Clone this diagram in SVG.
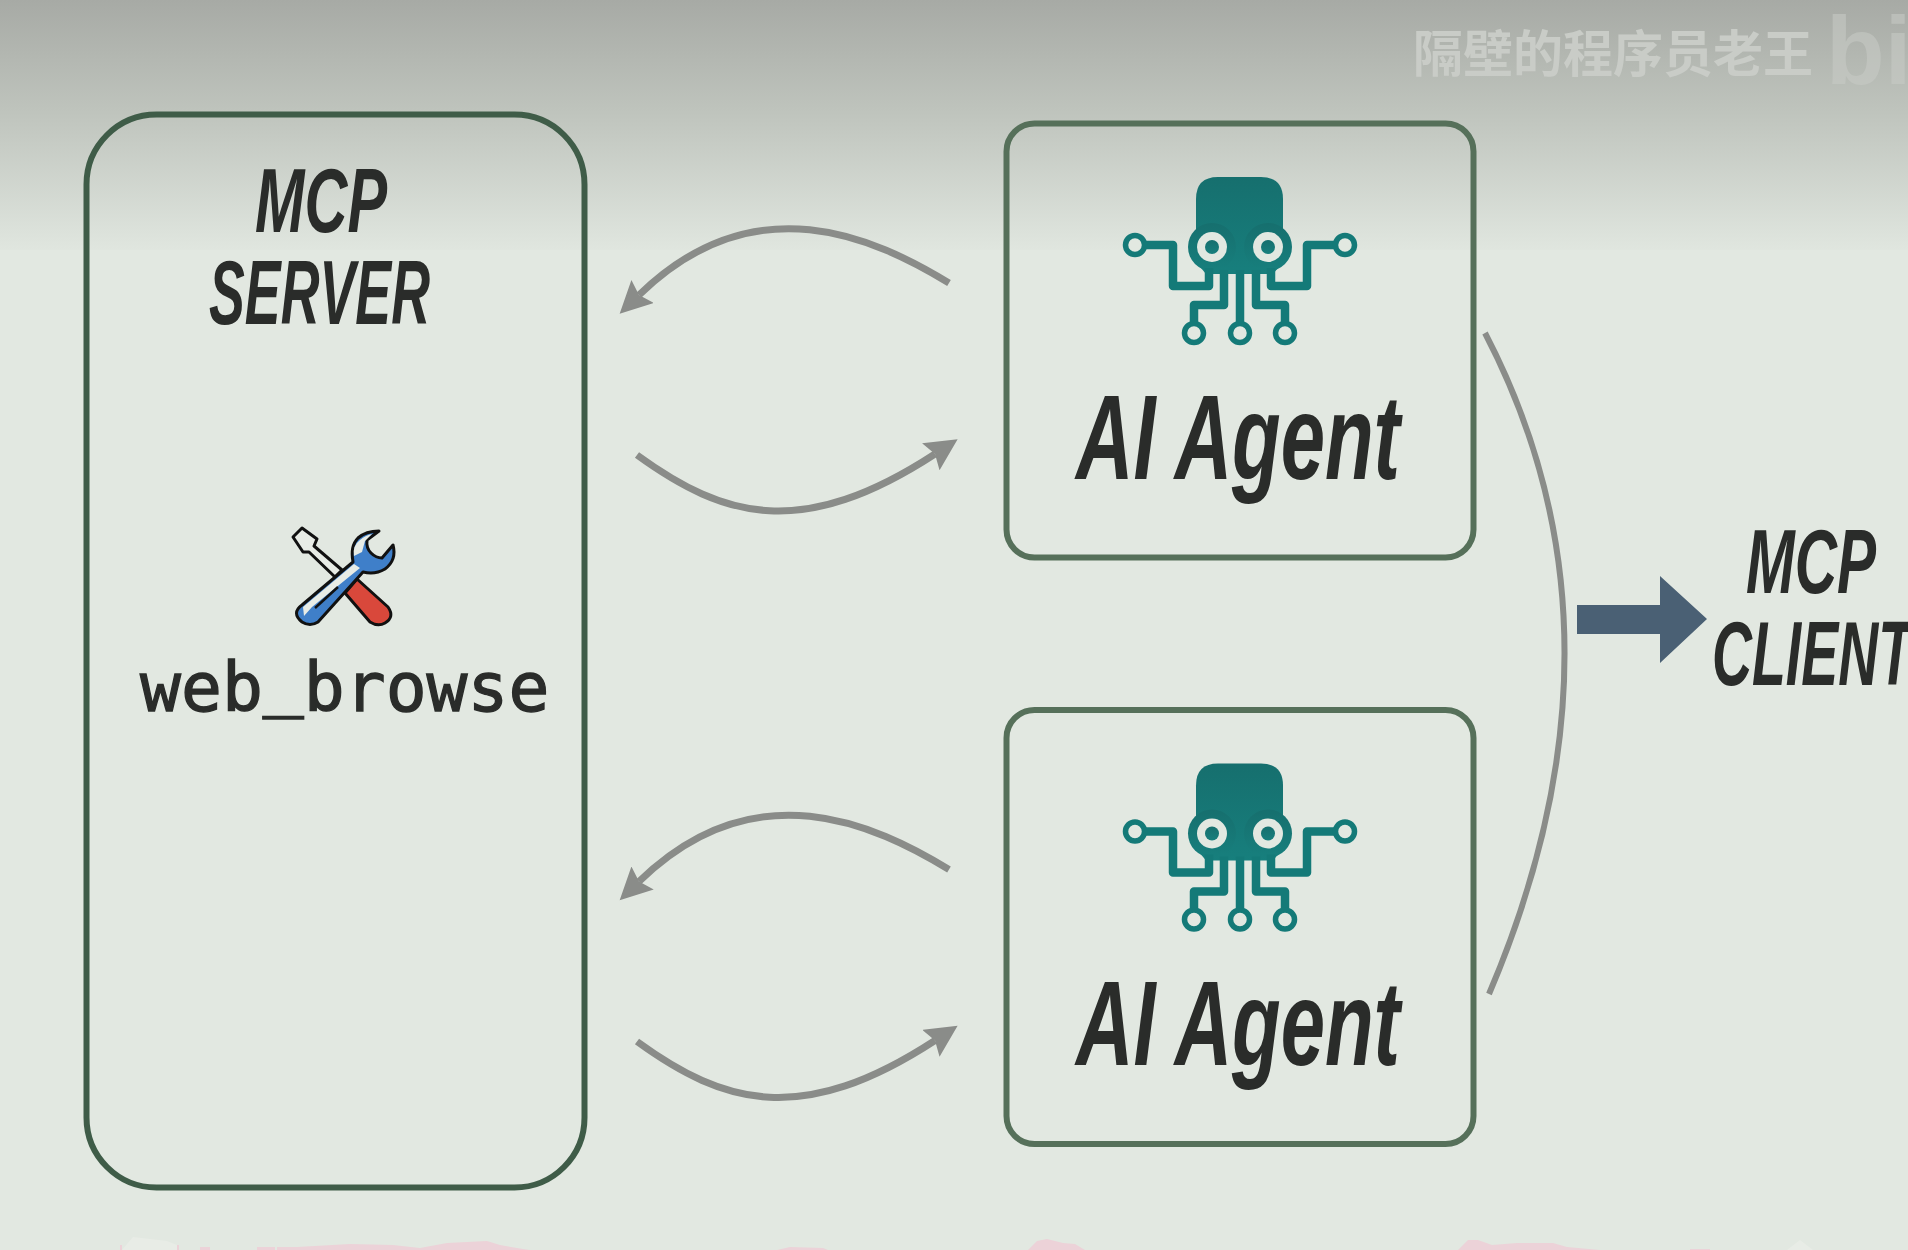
<svg xmlns="http://www.w3.org/2000/svg" width="1908" height="1250" viewBox="0 0 1908 1250">
<style>
.h{font-family:"Liberation Sans",Arial,sans-serif;font-weight:700;font-style:italic;fill:#2a2c2a}
.box{fill:none;stroke:#56705a;stroke-width:6}
.cv{fill:none;stroke:#8a8c89;stroke-width:7}
.t{fill:url(#teal)}
.l{fill:none;stroke:#147a78;stroke-width:8.500;stroke-linejoin:round}
</style>
<defs>
<linearGradient id="bg" x1="0" y1="0" x2="0" y2="1"><stop offset="0" stop-color="#a7aaa5"/><stop offset=".45" stop-color="#bfc4bd"/><stop offset="1" stop-color="#e0e6df"/></linearGradient>
<linearGradient id="teal" x1="0" y1="0" x2="0" y2="1"><stop offset="0" stop-color="#166f6e"/><stop offset="1" stop-color="#177f7d"/></linearGradient>
<marker id="ah" markerUnits="userSpaceOnUse" markerWidth="34" markerHeight="34" viewBox="0 0 34 34" refX="5" refY="16" orient="auto"><polygon points="0,0 32,16 0,32 5,16" fill="#8a8c89"/></marker>
<g id="bot">
<path class="t" d="M1196,262V199q0,-22 22,-22h43q22,0 22,22v63l-10,12h-67z"/>
<circle class="t" cx="1212" cy="247" r="24"/><circle class="t" cx="1268" cy="247" r="24"/>
<circle cx="1212" cy="247" r="15" fill="#e2e8e1"/><circle cx="1268" cy="247" r="15" fill="#e2e8e1"/>
<circle class="t" cx="1212" cy="247" r="7"/><circle class="t" cx="1268" cy="247" r="7"/>
<path class="l" d="M1142,245H1173V286H1209V268M1338,245H1307V286H1271V268M1224,270V305H1194V322M1256,270V305H1285V322M1240,270V322"/>
<g fill="#e2e8e1" stroke="#147a78" stroke-width="5.500"><circle cx="1135" cy="245" r="9.500"/><circle cx="1345" cy="245" r="9.500"/><circle cx="1194" cy="333" r="9.500"/><circle cx="1240" cy="333" r="9.500"/><circle cx="1285" cy="333" r="9.500"/></g>
</g>
</defs>
<rect width="1908" height="1250" fill="#e2e8e1"/>
<rect width="1908" height="250" fill="url(#bg)"/>
<g id="watermark" fill="#c9ccc7">
<text x="1413" y="72" font-size="50" font-weight="700" font-family="'Noto Sans CJK SC',sans-serif">隔壁的程序员老王</text>
<text x="1826" y="84" font-size="96" font-weight="700" font-family="'Liberation Sans',sans-serif" opacity=".55">bil</text>
</g>
<g id="footer-smudge" fill="#ecd2d8">
<path d="M177,1250V1245H179V1250zM120,1250V1245H122V1250zM200,1250V1247H210V1250zM257,1250V1247H275V1250z"/>
<path d="M277,1250V1247H297L350,1244L393,1245L420,1248L447,1243L487,1241L500,1245L523,1249L530,1250zM777,1250L790,1247L823,1248L828,1250zM1028,1250L1037,1241L1047,1239L1063,1243L1075,1244L1085,1250zM1458,1250L1468,1240L1478,1240L1492,1245L1517,1243L1553,1243L1567,1247L1600,1250zM1690,1250V1249H1710V1250z"/>
<path d="M122,1250L133,1237L167,1241L177,1245V1250zM1787,1250L1800,1240L1813,1250z" fill="#e8ece6"/>
</g>
<g id="server">
<rect x="86.500" y="114.500" width="498" height="1073" rx="70" fill="none" stroke="#3f5c48" stroke-width="6"/>
<text class="h" x="255" y="232" font-size="90" textLength="132" lengthAdjust="spacingAndGlyphs">MCP</text>
<text class="h" x="209" y="324" font-size="90" textLength="221" lengthAdjust="spacingAndGlyphs">SERVER</text>
<g id="tools" stroke="#111" stroke-width="3" stroke-linejoin="round">
<path d="M293,537L302,528L317,539L314,546L342,570L335,577L309,552L303,552z" fill="#e8ece6"/>
<path d="M357,579L388,607Q395,617 385,623Q378,627 370,622L345,593z" fill="#d9483b"/>
<path d="M302,605L353,562Q350,546 358,538Q366,531 379,531L367,540Q366,548 371,553Q376,558 382,558L393,545Q397,560 385,569Q375,575 363,572L318,622Q310,627 302,622Q291,613 302,605z" fill="#3f7fc9"/>
<path d="M303,607L354,564L360,568L312,607L304,616z" fill="#e8ece6" stroke="none"/>
<path d="M354,556Q352,546 360,540Q366,535 372,534L365,541L362,552z" fill="#e8ece6" stroke="none"/>
<path d="M315,608L338,587" fill="none" stroke-width="2.500"/>
</g>
<text x="140" y="711" font-size="68" font-family="'DejaVu Sans Mono',monospace" fill="#2a2c2a" stroke="#2a2c2a" stroke-width="1.300">web<tspan dy="-8">_</tspan><tspan dy="8">browse</tspan></text>
</g>
<g id="agent1">
<rect class="box" x="1006.500" y="123.500" width="467" height="434" rx="28"/>
<use href="#bot"/>
<text class="h" x="1076" y="478.500" font-size="120" textLength="324" lengthAdjust="spacingAndGlyphs">AI Agent</text>
</g>
<g id="agent2">
<rect class="box" x="1006.500" y="710" width="467" height="434" rx="28"/>
<use href="#bot" y="586.500"/>
<text class="h" x="1076" y="1065" font-size="120" textLength="324" lengthAdjust="spacingAndGlyphs">AI Agent</text>
</g>
<g id="client">
<text class="h" x="1746" y="593" font-size="90" textLength="130" lengthAdjust="spacingAndGlyphs">MCP</text>
<text class="h" x="1712" y="685" font-size="90" textLength="200" lengthAdjust="spacingAndGlyphs">CLIENT</text>
</g>
<g id="connectors">
<path class="cv" d="M949,283C875,238 755,182 639,295" marker-end="url(#ah)"/>
<path class="cv" d="M637,455C725,519 803,540 935,454" marker-end="url(#ah)"/>
<path class="cv" d="M949,869.500C875,824.500 755,768.500 639,881.500" marker-end="url(#ah)"/>
<path class="cv" d="M637,1041.500C725,1105.500 803,1126.500 935,1040.500" marker-end="url(#ah)"/>
<path class="cv" style="stroke-width:6" d="M1485,333C1585,525 1595,745 1489,994"/>
<polygon points="1577,605 1660,605 1660,576 1707,619 1660,663 1660,634 1577,634" fill="#4a6074"/>
</g>
</svg>
